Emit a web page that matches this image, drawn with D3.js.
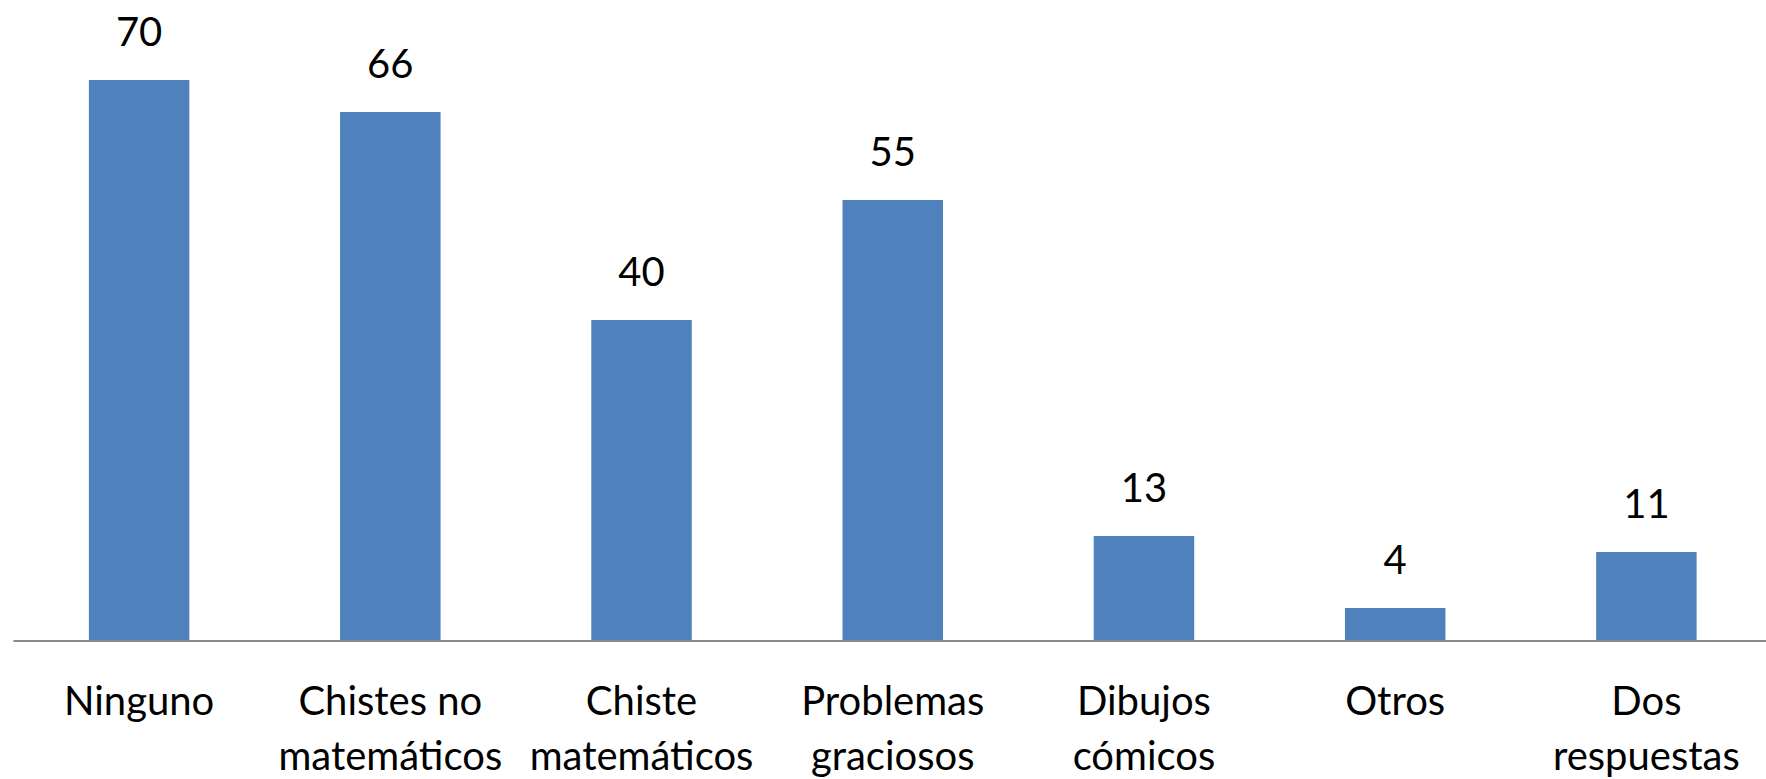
<!DOCTYPE html>
<html>
<head>
<meta charset="utf-8">
<script src="https://cdn.jsdelivr.net/npm/d3@7"></script>
<style>
  body { margin: 0; background: #fff; }
  text { font-family: Lato, "Open Sans", sans-serif; }
</style>
</head>
<body>
<div class="chart"></div>
<script>
// datos
var categorias = ["Ninguno", "Chistes no|matemáticos", "Chiste|matemáticos", "Problemas|graciosos", "Dibujos|cómicos", "Otros", "Dos|respuestas"];
var valores = [70, 66, 40, 55, 13, 4, 11];

drawBars();

function drawBars(){
    var w = 1766;
    var h = 779;
    var baseY = 640;

    var svg = d3.select(".chart")
      .append("svg")
      .attr("width", w)
      .attr("height", h);

    // escala x por categoria
    var x = d3.scaleBand()
      .domain(categorias)
      .range([13.5, 1772])
      .paddingInner(0.6)
      .paddingOuter(0.3);

    // 8 px por unidad
    var y = d3.scaleLinear()
      .domain([0, 70])
      .range([baseY, 80]);

    svg.selectAll("rect.bar")
      .data(valores)
      .enter()
      .append("rect")
      .attr("class", "bar")
      .attr("x", function(d, i) { return x(categorias[i]); })
      .attr("y", function(d) { return y(d); })
      .attr("width", x.bandwidth())
      .attr("height", function(d) { return baseY - y(d); })
      .attr("fill", "#4F81BD");

    // linea del eje
    svg.append("line")
      .attr("x1", 13.5)
      .attr("x2", w)
      .attr("y1", baseY + 1)
      .attr("y2", baseY + 1)
      .attr("stroke", "#898989")
      .attr("stroke-width", 2);

    // etiquetas de valor
    svg.selectAll("text.valor")
      .data(valores)
      .enter()
      .append("text")
      .attr("class", "valor")
      .attr("x", function(d, i) { return x(categorias[i]) + x.bandwidth() / 2; })
      .attr("y", function(d) { return y(d) - 34; })
      .attr("text-anchor", "middle")
      .attr("font-size", 40)
      .attr("fill", "#000")
      .text(function(d) { return d; });

    // etiquetas de categoria (dos lineas)
    var cat = svg.selectAll("text.cat")
      .data(categorias)
      .enter()
      .append("text")
      .attr("class", "cat")
      .attr("text-anchor", "middle")
      .attr("font-size", 40)
      .attr("fill", "#000");

    cat.selectAll("tspan")
      .data(function(d) { return d.split("|").map(function(s) { return { s: s, c: d }; }); })
      .enter()
      .append("tspan")
      .attr("x", function(d) { return x(d.c) + x.bandwidth() / 2; })
      .attr("y", function(d, i) { return 715 + i * 55; })
      .text(function(d) { return d.s; });
}
</script>
</body>
</html>
